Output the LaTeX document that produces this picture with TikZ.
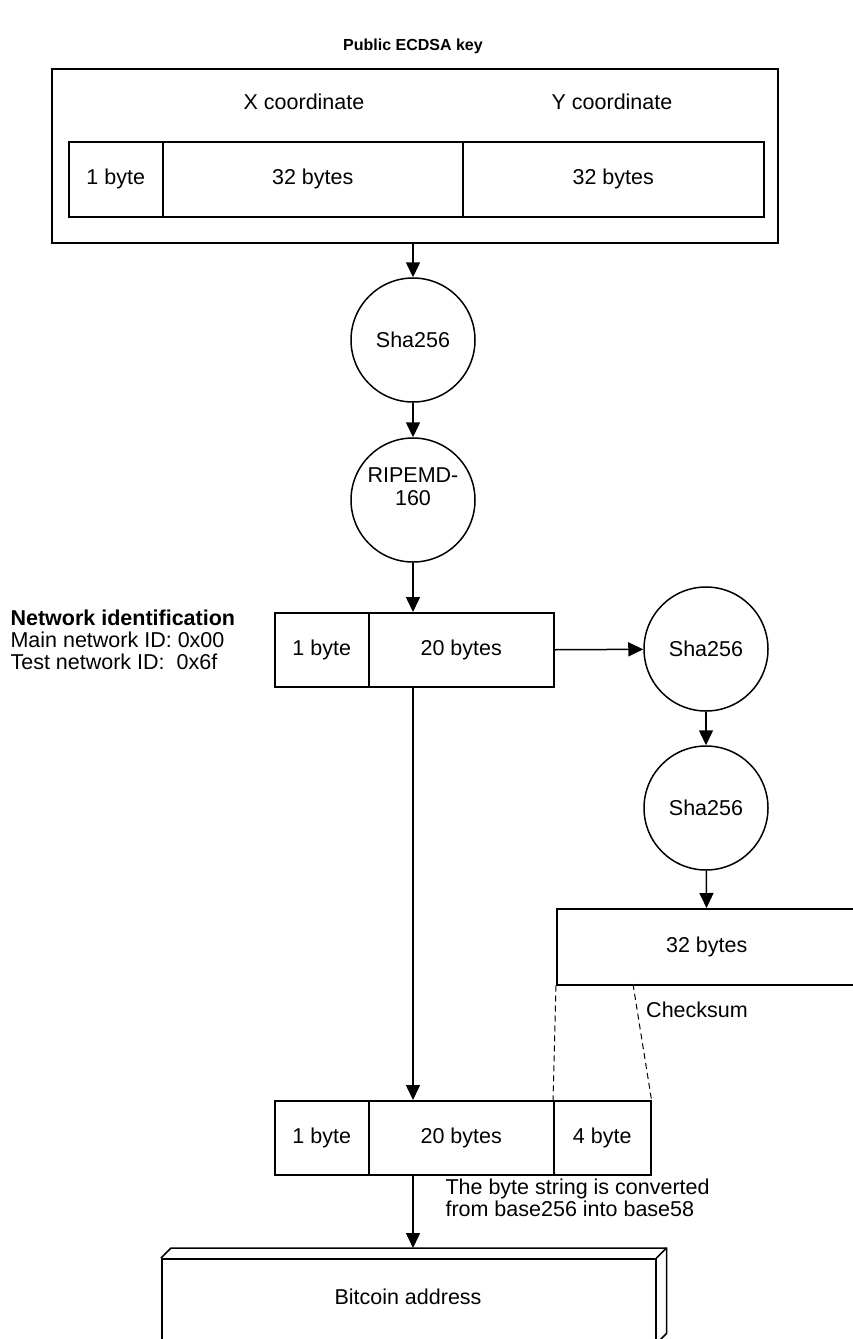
\documentclass[tikz,border=0pt]{standalone}
\usepackage{fontspec}
\setmainfont{Liberation Sans}
\usetikzlibrary{arrows.meta,calc}

\begin{document}
\begin{tikzpicture}[x=1pt,y=-1pt,
  every node/.style={font=\fontsize{21.5}{23}\selectfont},
  box/.style={draw,line width=1.5pt,inner sep=0pt,anchor=north west},
  hashnode/.style={draw,circle,line width=1.5pt,minimum size=124pt,inner sep=0pt,align=center},
  arr/.style={line width=1.5pt,-{Triangle[length=15pt,width=14pt]}},
  link/.style={line width=1.5pt},
  chk/.style={line width=1pt,dash pattern=on 6pt off 4pt}]
\useasboundingbox (0,0) rectangle (853,1339);

% public key block
\node[font=\fontsize{16}{18}\bfseries] (title) at (413,46) {Public ECDSA key};
\node[box,minimum width=726pt,minimum height=174pt] (pk) at (51,68) {};
\node (xc) at (304,102) {X coordinate};
\node (yc) at (612,102) {Y coordinate};
\node[box,minimum width=94pt,minimum height=75pt] (p1) at (68,141) {1 byte};
\node[box,minimum width=300pt,minimum height=75pt] (p2) at (162,141) {32 bytes};
\node[box,minimum width=301pt,minimum height=75pt] (p3) at (462,141) {32 bytes};

% hashing chain
\node[hashnode] (s1) at (413,340) {Sha256};
\node[hashnode] (r1) at (413,500) {};
\node[align=center] (r1t) at (413,487) {RIPEMD-\\160};

% versioned hash
\node[box,minimum width=94pt,minimum height=74pt] (a1) at (274,612) {1 byte};
\node[box,minimum width=185pt,minimum height=74pt] (a2) at (368,612) {20 bytes};
\node[anchor=north west,align=left,font=\fontsize{21.5}{22}\selectfont] (net) at (7,606)
  {\textbf{Network identification}\\Main network ID: 0x00\\Test network ID:\ \ 0x6f};

% checksum branch
\node[hashnode] (s2) at (706,649) {Sha256};
\node[hashnode] (s3) at (706,808) {Sha256};
\node[box,minimum width=300pt,minimum height=76pt] (cs) at (556,908) {32 bytes};
\node (cl) at (697,1010) {Checksum};

% final byte string
\node[box,minimum width=94pt,minimum height=74pt] (b1) at (274,1100) {1 byte};
\node[box,minimum width=185pt,minimum height=74pt] (b2) at (368,1100) {20 bytes};
\node[box,minimum width=97pt,minimum height=74pt] (b3) at (553,1100) {4 byte};
\node[anchor=north west,align=left,font=\fontsize{21.5}{22.5}\selectfont] (conv) at (442,1175)
  {The byte string is converted\\from base256 into base58};

% address block with depth
\node[box,minimum width=494pt,minimum height=84pt] (ba) at (161,1258) {};
\node (bl) at (408,1297) {Bitcoin address};
\draw[link] (ba.north west) -- ++(10,-10) coordinate (bk1)
  -- ($(ba.north east)+(10,-10)$) coordinate (bk2)
  -- ($(ba.south east)+(10,-10)$) -- (ba.south east);
\draw[link] (ba.north east) -- (bk2);

% connectors
\draw[arr] (s1 |- pk.south) -- (s1);
\draw[arr] (s1) -- (r1);
\draw[arr] (r1) -- (r1 |- a2.north);
\draw[arr] (a2.east) -- (s2);
\draw[arr] (s2) -- (s3);
\draw[arr] (s3) -- (cs);
\draw[arr] (r1 |- a2.south) -- (r1 |- b2.north);
\draw[arr] (r1 |- b2.south) -- (r1 |- bk1);

% checksum bytes taken into the last field
\coordinate (ck) at (633,984);
\draw[chk] (cs.south west) -- (b3.north west);
\draw[chk] (ck) -- (b3.north east);
\end{tikzpicture}
\end{document}
